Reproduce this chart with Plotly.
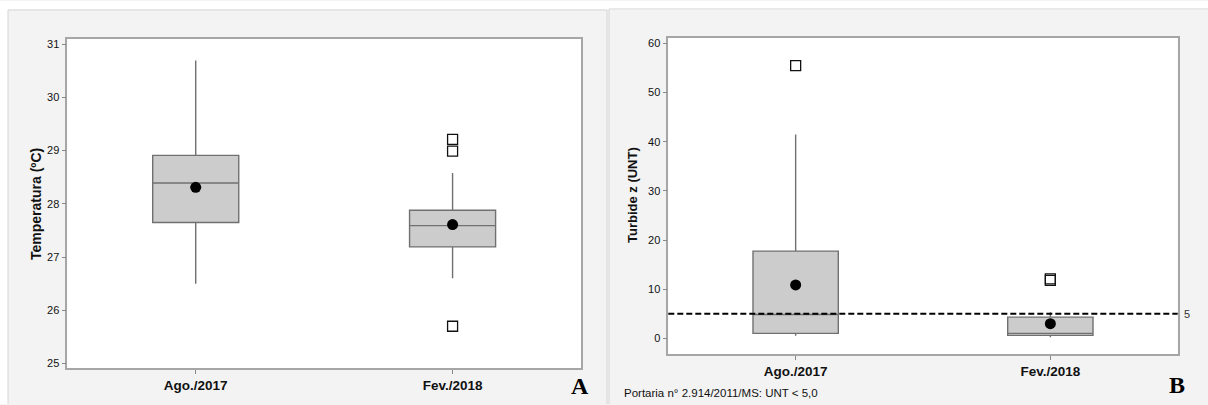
import plotly.graph_objects as go

W, H = 1208, 405

categories = ["Ago./2017", "Fev./2018"]

# Panel A - Temperatura (ºC)
temp_lower = [26.50, 26.60]
temp_q1 = [27.65, 27.19]
temp_median = [28.39, 27.59]
temp_q3 = [28.91, 27.88]
temp_upper = [30.69, 28.58]
temp_mean = [28.31, 27.61]
temp_outlier_cat = ["Fev./2018", "Fev./2018", "Fev./2018"]
temp_outlier_val = [29.21, 28.99, 25.70]
temp_ticks = [25, 26, 27, 28, 29, 30, 31]

# Panel B - Turbidez (UNT)
turb_lower = [0.5, 0.2]
turb_q1 = [1.0, 0.6]
turb_median = [4.86, 1.0]
turb_q3 = [17.75, 4.31]
turb_upper = [41.5, 5.3]
turb_mean = [10.87, 2.97]
turb_outlier_cat = ["Ago./2017", "Fev./2018", "Fev./2018"]
turb_outlier_val = [55.49, 11.8, 12.1]
turb_ticks = [0, 10, 20, 30, 40, 50, 60]
turb_limit = 5

FONT = "Liberation Sans"
PANEL = "#f3f3f3"
EDGE = "#d6d6d6"

fig = go.Figure()

def add_panel(xa, ya, lower, q1, med, q3, upper, mean, ocat, oval):
    fig.add_trace(go.Box(
        x=categories, lowerfence=lower, q1=q1, median=med, q3=q3, upperfence=upper,
        xaxis=xa, yaxis=ya, width=0.335, whiskerwidth=0,
        fillcolor="#cccccc", line=dict(color="#707070", width=1.4),
        boxpoints=False, showlegend=False, hoverinfo="skip"))
    fig.add_trace(go.Scatter(
        x=ocat, y=oval, xaxis=xa, yaxis=ya, mode="markers",
        marker=dict(symbol="square-open", size=10, color="#111111", line=dict(width=1.3)),
        showlegend=False, hoverinfo="skip"))
    fig.add_trace(go.Scatter(
        x=categories, y=mean, xaxis=xa, yaxis=ya, mode="markers",
        marker=dict(symbol="circle", size=11, color="#000000"),
        showlegend=False, hoverinfo="skip"))

add_panel("x", "y", temp_lower, temp_q1, temp_median, temp_q3, temp_upper, temp_mean,
          temp_outlier_cat, temp_outlier_val)
add_panel("x2", "y2", turb_lower, turb_q1, turb_median, turb_q3, turb_upper, turb_mean,
          turb_outlier_cat, turb_outlier_val)

xcommon = dict(type="category", categoryorder="array", categoryarray=categories,
               range=[-0.5, 1.5], showline=True, linecolor="#a6a6a6", linewidth=1.5,
               mirror=True, ticks="outside", ticklen=4, tickcolor="#888888",
               showgrid=False, zeroline=False,
               tickfont=dict(family=FONT, size=13.5, color="#111111", weight="bold"))
ycommon = dict(showline=True, linecolor="#a6a6a6", linewidth=1.5, mirror=True,
               ticks="outside", ticklen=4, tickcolor="#888888", showgrid=False,
               zeroline=False, tickfont=dict(family=FONT, size=11, color="#111111"))

fig.update_layout(
    width=W, height=H, margin=dict(l=0, r=0, t=0, b=0),
    paper_bgcolor=PANEL, plot_bgcolor="white",
    xaxis=dict(domain=[67.3 / W, 581 / W], anchor="y", **xcommon),
    yaxis=dict(domain=[1 - 369.3 / H, 1 - 38.3 / H], anchor="x",
               range=[24.907, 31.093], tickvals=temp_ticks, **ycommon),
    xaxis2=dict(domain=[668.3 / W, 1177.7 / W], anchor="y2", **xcommon),
    yaxis2=dict(domain=[1 - 355 / H, 1 - 37.3 / H], anchor="x2",
                range=[-3.24, 61.09], tickvals=turb_ticks, **ycommon),
    showlegend=False,
)

# white page margins outside the panels
fig.add_shape(type="rect", xref="paper", yref="paper", x0=0, x1=1, y0=1 - 8.5 / H, y1=1,
              fillcolor="white", line=dict(width=0), layer="below")
fig.add_shape(type="rect", xref="paper", yref="paper", x0=0, x1=8 / W, y0=0, y1=1,
              fillcolor="white", line=dict(width=0), layer="below")
# panel borders
for x0, x1, ytop in [(8, 607, 9), (609, 1210, 8)]:
    fig.add_shape(type="line", xref="paper", yref="paper", x0=x0 / W, x1=x1 / W,
                  y0=1 - ytop / H, y1=1 - ytop / H, line=dict(color=EDGE, width=1))
    fig.add_shape(type="line", xref="paper", yref="paper", x0=x0 / W, x1=x0 / W,
                  y0=0, y1=1 - ytop / H, line=dict(color=EDGE, width=1))
fig.add_shape(type="line", xref="paper", yref="paper", x0=607 / W, x1=607 / W,
              y0=0, y1=1 - 9 / H, line=dict(color=EDGE, width=1))

# limit line
fig.add_shape(type="line", xref="x2 domain", yref="y2", x0=0, x1=1,
              y0=turb_limit, y1=turb_limit,
              line=dict(color="#000000", width=2, dash="6px,3px"))
fig.add_annotation(xref="paper", yref="y2", x=1182 / W, y=turb_limit, text="5",
                   showarrow=False, xanchor="left", yanchor="middle",
                   font=dict(family=FONT, size=11, color="#333333"))

# axis titles
fig.add_annotation(xref="paper", yref="paper", x=36 / W, y=1 - 204 / H,
                   text="Temperatura (ºC)", textangle=-90, showarrow=False,
                   xanchor="center", yanchor="middle",
                   font=dict(family=FONT, size=14, color="#111111", weight="bold"))
fig.add_annotation(xref="paper", yref="paper", x=632 / W, y=1 - 195 / H,
                   text="Turbide z (UNT)", textangle=-90, showarrow=False,
                   xanchor="center", yanchor="middle",
                   font=dict(family=FONT, size=13, color="#111111", weight="bold"))

# panel letters
fig.add_annotation(xref="paper", yref="paper", x=579.5 / W, y=1 - 387 / H, text="A",
                   showarrow=False, xanchor="center", yanchor="middle",
                   font=dict(family="Liberation Serif", size=24, color="#000000", weight="bold"))
fig.add_annotation(xref="paper", yref="paper", x=1177 / W, y=1 - 386 / H, text="B",
                   showarrow=False, xanchor="center", yanchor="middle",
                   font=dict(family="Liberation Serif", size=24, color="#000000", weight="bold"))

# footnote
fig.add_annotation(xref="paper", yref="paper", x=622 / W, y=1 - 394 / H,
                   text="Portaria n° 2.914/2011/MS: UNT < 5,0", showarrow=False,
                   xanchor="left", yanchor="middle",
                   font=dict(family=FONT, size=11.5, color="#111111"))

fig.write_html("out.html")
